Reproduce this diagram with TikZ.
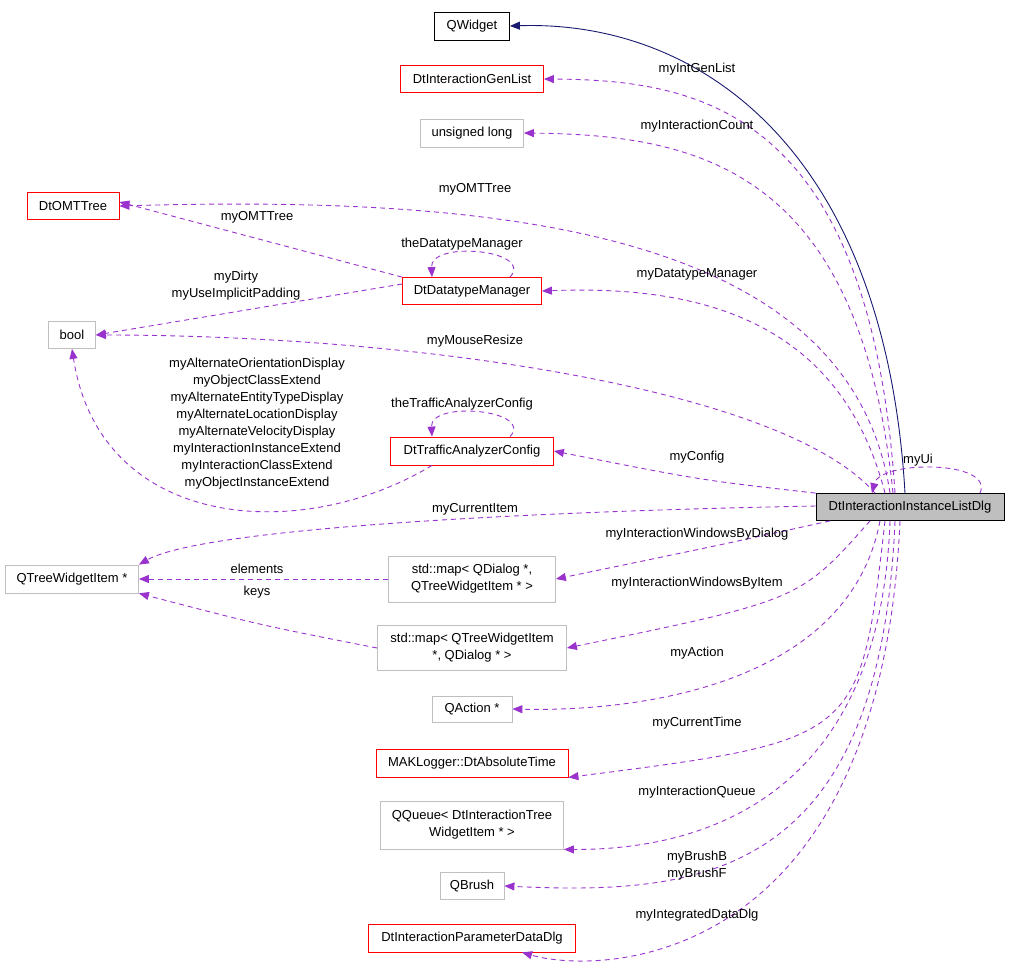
\documentclass[tikz,border=0pt]{standalone}
\usepackage{fontspec}
\setmainfont{Liberation Sans}
\usetikzlibrary{arrows.meta}
\begin{document}
\begin{tikzpicture}[x=1pt,y=-1pt,
 box/.style={draw=#1,fill=white,line width=0.8pt,inner sep=0pt,font=\fontsize{13}{17}\selectfont,align=center},
 box/.default=black,
 dep/.style={draw={rgb,255:red,154;green,50;blue,205},dashed,dash pattern=on 5pt off 4pt,line width=0.9pt,-{Triangle[length=10pt,width=8pt]}},
 inh/.style={draw={rgb,255:red,25;green,25;blue,112},line width=0.9pt,-{Triangle[length=10pt,width=8pt]}},
 lab/.style={font=\fontsize{13}{17}\selectfont,align=center,inner sep=0pt}]
\useasboundingbox (0,0) rectangle (1011,975);
\definecolor{gr}{rgb}{0.75,0.75,0.75}
\node[box,minimum width=75,minimum height=28] (qw) at (472,26) {QWidget};
\node[box=red,minimum width=143,minimum height=27] (gen) at (472,79) {DtInteractionGenList};
\node[box=gr,minimum width=103,minimum height=28] (ul) at (472,133) {unsigned long};
\node[box=red,minimum width=92,minimum height=27] (omt) at (73,206) {DtOMTTree};
\node[box=red,minimum width=139,minimum height=27] (dm) at (472,291) {DtDatatypeManager};
\node[box=gr,minimum width=47,minimum height=27] (bool) at (72,335) {bool};
\node[box=red,minimum width=163,minimum height=28] (tac) at (472,451) {DtTrafficAnalyzerConfig};
\node[box,fill={rgb,255:red,191;green,191;blue,191},minimum width=188,minimum height=27] (dlg) at (910,507) {DtInteractionInstanceListDlg};
\node[box=gr,minimum width=133,minimum height=28] (twi) at (72,579) {QTreeWidgetItem *};
\node[box=gr,minimum width=167,minimum height=46] (m1) at (472,579) {std::map\textless{} QDialog *,\\QTreeWidgetItem * \textgreater};
\node[box=gr,minimum width=189,minimum height=45] (m2) at (472,648) {std::map\textless{} QTreeWidgetItem\\*, QDialog * \textgreater};
\node[box=gr,minimum width=80,minimum height=26] (qa) at (472,709) {QAction *};
\node[box=red,minimum width=192,minimum height=28] (abs) at (472,763) {MAKLogger::DtAbsoluteTime};
\node[box=gr,minimum width=183,minimum height=48] (qq) at (472,825) {QQueue\textless{} DtInteractionTree\\WidgetItem * \textgreater};
\node[box=gr,minimum width=64,minimum height=27] (qb) at (472,886) {QBrush};
\node[box=red,minimum width=207,minimum height=28] (pdd) at (472,938) {DtInteractionParameterDataDlg};

\draw[inh] ([xshift=-5]dlg.north) .. controls (885,150) and (700,20) .. (qw.east);
\draw[dep] ([xshift=-15]dlg.north) .. controls (870,110) and (700,80) .. (gen.east);
\draw[dep] ([xshift=-17]dlg.north) .. controls (860,170) and (700,135) .. (ul.east);
\draw[dep] ([xshift=-20]dlg.north) .. controls (850,230) and (500,195) .. (omt.east);
\draw[dep] (dm.north west) -- ([yshift=4]omt.east);
\draw[dep] ([xshift=38]dm.north) .. controls (535,250) and (430,240) .. ([xshift=-40]dm.north);
\draw[dep] ([yshift=7]dm.west) -- (bool.east);
\draw[dep] ([xshift=-25]dlg.north) .. controls (840,320) and (700,285) .. (dm.east);
\draw[dep] ([xshift=-35]dlg.north) .. controls (780,385) and (400,335) .. (bool.east);
\draw[dep] ([xshift=-40]tac.south) .. controls (300,545) and (100,530) .. (bool.south);
\draw[dep] ([xshift=38]tac.north) .. controls (535,410) and (430,400) .. ([xshift=-40]tac.north);
\draw[dep] (dlg.north west) .. controls (700,480) .. (tac.east);
\draw[dep] ([yshift=1]dlg.west) .. controls (500,512) and (200,530) .. (twi.north east);
\draw[dep] (m1.west) -- (twi.east);
\draw[dep] (m2.west) .. controls (260,625) .. (twi.south east);
\draw[dep] ([xshift=-80]dlg.south) .. controls (720,545) .. (m1.east);
\draw[dep] ([xshift=-40]dlg.south) .. controls (800,600) .. (m2.east);
\draw[dep] ([xshift=-30]dlg.south) .. controls (850,680) and (650,712) .. (qa.east);
\draw[dep] ([xshift=-25]dlg.south) .. controls (860,740) .. (abs.south east);
\draw[dep] ([xshift=-20]dlg.south) .. controls (880,800) and (700,850) .. (qq.south east);
\draw[dep] ([xshift=-15]dlg.south) .. controls (880,880) and (700,895) .. (qb.east);
\draw[dep] ([xshift=-10]dlg.south) .. controls (880,970) and (600,975) .. ([xshift=50]pdd.south);
\draw[dep] ([xshift=70]dlg.north) .. controls (995,460) and (880,460) .. ([xshift=-38]dlg.north);

\node[lab] (l1) at (697,69) {myIntGenList};
\node[lab] (l2) at (697,126) {myInteractionCount};
\node[lab] (l3) at (475,189) {myOMTTree};
\node[lab] (l4) at (257,217) {myOMTTree};
\node[lab] (l5) at (462,244) {theDatatypeManager};
\node[lab] (l6) at (236,286) {myDirty\\myUseImplicitPadding};
\node[lab] (l7) at (697,274) {myDatatypeManager};
\node[lab] (l8) at (475,341) {myMouseResize};
\node[lab] (l9) at (257,424) {myAlternateOrientationDisplay\\myObjectClassExtend\\myAlternateEntityTypeDisplay\\myAlternateLocationDisplay\\myAlternateVelocityDisplay\\myInteractionInstanceExtend\\myInteractionClassExtend\\myObjectInstanceExtend};
\node[lab] (l10) at (462,404) {theTrafficAnalyzerConfig};
\node[lab] (l11) at (697,457) {myConfig};
\node[lab] (l12) at (475,509) {myCurrentItem};
\node[lab] (l13) at (697,534) {myInteractionWindowsByDialog};
\node[lab] (l14) at (257,569) {elements};
\node[lab] (l15) at (257,592) {keys};
\node[lab] (l16) at (697,583) {myInteractionWindowsByItem};
\node[lab] (l17) at (697,653) {myAction};
\node[lab] (l18) at (697,723) {myCurrentTime};
\node[lab] (l19) at (697,792) {myInteractionQueue};
\node[lab] (l20) at (697,866) {myBrushB\\myBrushF};
\node[lab] (l21) at (697,915) {myIntegratedDataDlg};
\node[lab] (l22) at (918,460) {myUi};
\end{tikzpicture}
\end{document}
